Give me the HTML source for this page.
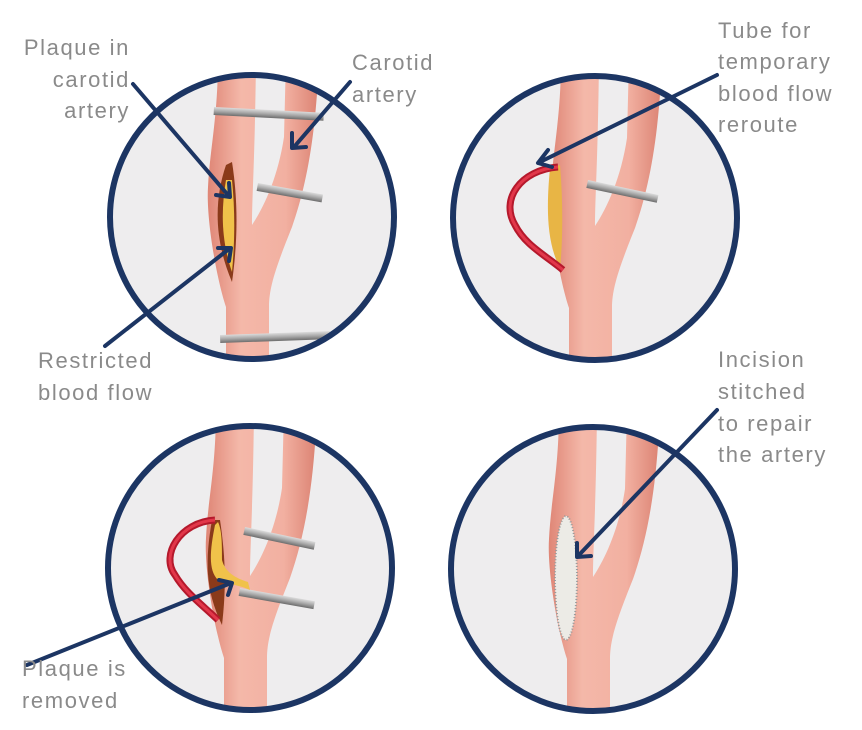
<!DOCTYPE html>
<html><head><meta charset="utf-8"><style>
html,body{margin:0;padding:0;background:#fff;}
svg{display:block}
text{font-family:"Liberation Sans",sans-serif;font-size:22px;fill:#8a8a8a;letter-spacing:1.6px}
</style></head><body>
<svg width="862" height="730" viewBox="0 0 862 730" xmlns="http://www.w3.org/2000/svg">
<defs>
<linearGradient id="pk" x1="0" x2="1" y1="0" y2="0">
<stop offset="0" stop-color="#df8676"/><stop offset="0.3" stop-color="#f4b8a9"/><stop offset="0.7" stop-color="#f2b0a1"/><stop offset="1" stop-color="#db8272"/>
</linearGradient>
<linearGradient id="gr" x1="0" x2="0" y1="0" y2="1">
<stop offset="0" stop-color="#dcdcdc"/><stop offset="0.5" stop-color="#a9a9a9"/><stop offset="1" stop-color="#6d6d6d"/>
</linearGradient>
<path id="art" d="M -34,-160 L 4,-160 C 3,-60 0,-20 0,8 C 12,-10 26,-40 32,-80 L 34,-160 L 67,-160 C 64,-80 54,-30 40,10 C 24,50 17,70 17,90 L 17,170 L -26,170 L -26,90 C -36,60 -46,0 -44,-30 C -42,-70 -34,-100 -34,-160 Z" fill="url(#pk)"/>
<clipPath id="c1"><circle cx="252" cy="217" r="142"/></clipPath>
<clipPath id="c2"><circle cx="595" cy="218" r="142"/></clipPath>
<clipPath id="c3"><circle cx="250" cy="568" r="142"/></clipPath>
<clipPath id="c4"><circle cx="593" cy="569" r="142"/></clipPath>
</defs>

<circle cx="252" cy="217" r="142" fill="#eeedee"/>
<g clip-path="url(#c1)">
<use href="#art" transform="translate(252,217)"/>
<rect x="214" y="107" width="110" height="8" fill="url(#gr)" transform="rotate(3 214 107)"/>
<rect x="258" y="183" width="66" height="8" fill="url(#gr)" transform="rotate(10 258 183)"/>
<rect x="220" y="335" width="110" height="8" fill="url(#gr)" transform="rotate(-2 220 335)"/>
<path d="M226,165 C214,200 214,240 232,282 C238,240 238,200 232,162 Z" fill="#8a3a1a"/>
<path d="M226,180 C221,210 221,240 232,272 C235,240 235,210 232,180 Z" fill="#f0c24a"/>
</g>
<circle cx="252" cy="217" r="142" fill="none" stroke="#1c3563" stroke-width="6"/>

<circle cx="595" cy="218" r="142" fill="#eeedee"/>
<g clip-path="url(#c2)">
<use href="#art" transform="translate(595,218)"/>
<rect x="588" y="180" width="72" height="8" fill="url(#gr)" transform="rotate(12 588 180)"/>
<path d="M550,168 C547,200 545,240 560,268 C563,240 563,200 560,165 Z" fill="#e8b545"/>
<path d="M558,167 C520,170 500,200 515,225 C525,245 545,255 563,270" fill="none" stroke="#b5192c" stroke-width="7"/>
<path d="M558,167 C520,170 500,200 515,225 C525,245 545,255 563,270" fill="none" stroke="#e2374a" stroke-width="3"/>
</g>
<circle cx="595" cy="218" r="142" fill="none" stroke="#1c3563" stroke-width="6"/>

<circle cx="250" cy="568" r="142" fill="#eeedee"/>
<g clip-path="url(#c3)">
<use href="#art" transform="translate(250,568)"/>
<rect x="245" y="527" width="72" height="8" fill="url(#gr)" transform="rotate(12 245 527)"/>
<rect x="240" y="588" width="76" height="8" fill="url(#gr)" transform="rotate(10 240 588)"/>
<path d="M212,520 C205,560 205,590 222,625 C226,590 226,560 220,520 Z" fill="#8a3a1a"/>
<path d="M215,525 C210,550 208,570 218,580 C230,585 240,585 250,590 L248,582 C235,578 225,572 222,560 C222,545 222,530 218,522 Z" fill="#f0c24a"/>
<path d="M215,520 C180,522 160,555 175,575 C185,592 200,603 218,620" fill="none" stroke="#b5192c" stroke-width="7"/>
<path d="M215,520 C180,522 160,555 175,575 C185,592 200,603 218,620" fill="none" stroke="#e2374a" stroke-width="3"/>
</g>
<circle cx="250" cy="568" r="142" fill="none" stroke="#1c3563" stroke-width="6"/>

<circle cx="593" cy="569" r="142" fill="#eeedee"/>
<g clip-path="url(#c4)">
<use href="#art" transform="translate(593,569)"/>
<ellipse cx="566" cy="578" rx="11" ry="62" fill="#ecebe6" stroke="#9a9a9a" stroke-width="2" stroke-dasharray="1 2"/>
</g>
<circle cx="593" cy="569" r="142" fill="none" stroke="#1c3563" stroke-width="6"/>

<g stroke="#1c3563" stroke-width="4" fill="none" stroke-linecap="round" stroke-linejoin="round">
<line x1="133" y1="84" x2="228" y2="195"/><polyline points="216,195 230,197 229,183"/>
<line x1="350" y1="82" x2="294" y2="147"/><polyline points="292,133 292,148 306,147"/>
<line x1="105" y1="346" x2="229" y2="249"/><polyline points="218,248 231,248 229,261"/>
<line x1="717" y1="75" x2="540" y2="162"/><polyline points="548,150 538,163 552,167"/>
<line x1="717" y1="410" x2="578" y2="556"/><polyline points="577,543 577,557 591,556"/>
<line x1="27" y1="665" x2="231" y2="583"/><polyline points="219,580 232,583 228,595"/>
</g>

<text x="130" y="55" text-anchor="end">Plaque in</text>
<text x="130" y="87" text-anchor="end">carotid</text>
<text x="130" y="118" text-anchor="end">artery</text>
<text x="352" y="70">Carotid</text>
<text x="352" y="102">artery</text>
<text x="38" y="368">Restricted</text>
<text x="38" y="400">blood flow</text>
<text x="718" y="38">Tube for</text>
<text x="718" y="69">temporary</text>
<text x="718" y="101">blood flow</text>
<text x="718" y="132">reroute</text>
<text x="718" y="367">Incision</text>
<text x="718" y="399">stitched</text>
<text x="718" y="431">to repair</text>
<text x="718" y="462">the artery</text>
<text x="22" y="676">Plaque is</text>
<text x="22" y="708">removed</text>
</svg>
</body></html>
